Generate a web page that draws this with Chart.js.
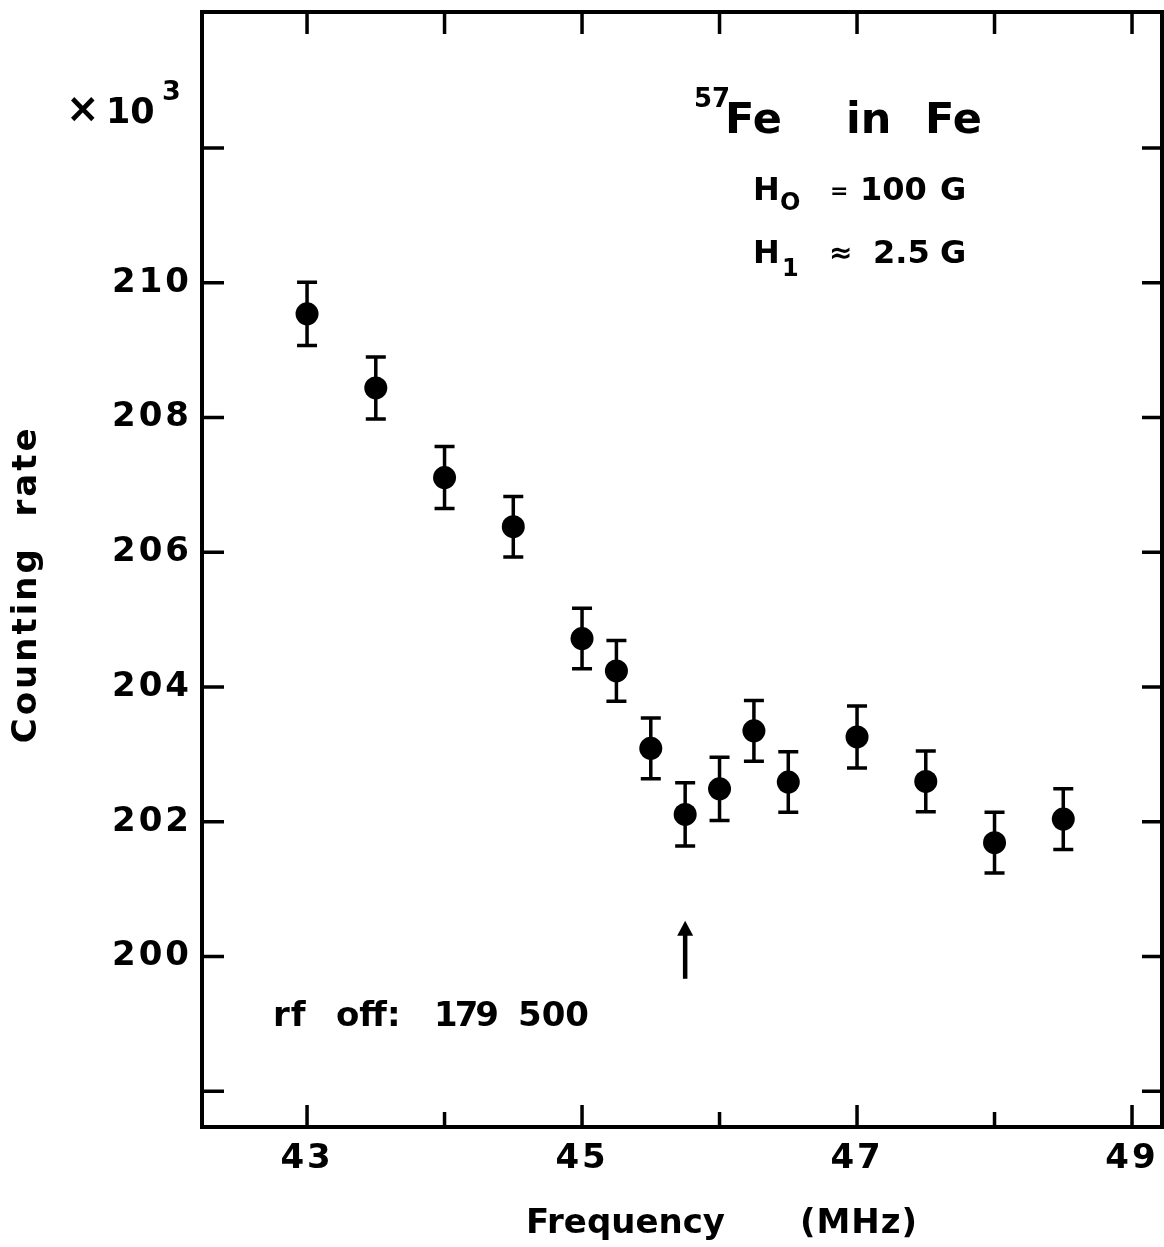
<!DOCTYPE html>
<html>
<head>
<meta charset="utf-8">
<script src="https://cdn.jsdelivr.net/npm/chart.js@4.4.1/dist/chart.umd.min.js"></script>
<style>
  html, body { margin: 0; padding: 0; background: #fff; }
  canvas { display: block; }
</style>
</head>
<body>
<canvas id="myChart" width="1164" height="1247"></canvas>
<script>
// 57Fe in Fe, counting rate (x10^3) vs frequency
const frequency = [43.0, 43.5, 44.0, 44.5, 45.0, 45.25, 45.5, 45.75, 46.0, 46.25, 46.5, 47.0, 47.5, 48.0, 48.5]
const countingRate = [209.54, 208.44, 207.11, 206.38, 204.72, 204.24, 203.09, 202.11, 202.49, 203.35, 202.59, 203.26, 202.60, 201.69, 202.04]
const rateError = [0.47, 0.46, 0.46, 0.45, 0.45, 0.45, 0.45, 0.47, 0.47, 0.45, 0.45, 0.46, 0.45, 0.45, 0.45]

const xTickLabels = [43, 45, 47, 49]
const xTickMarks = [43, 44, 45, 46, 47, 48, 49]
const yTickLabels = [200, 202, 204, 206, 208, 210]
const yTickMarks = [198, 200, 202, 204, 206, 208, 210, 212]

const xMin = 42.236
const xMax = 49.218
const yMin = 197.47
const yMax = 214.02

// resonance arrow (frequency, from / to counting rate)
const arrowAt = 45.75
const arrowFrom = 199.67
const arrowTo = 200.53

const FONT = "'DejaVu Sans', sans-serif"

function text (ctx, str, x, y, size, spacing) {
  ctx.font = `bold ${size}px ${FONT}`
  ctx.letterSpacing = spacing + 'px'
  ctx.fillText(str, x, y)
}

// chart.js reserves room for half a tick label at the ends, drop that
function noPad (scale) {
  scale.paddingTop = 0
  scale.paddingBottom = 0
  scale.paddingLeft = 0
  scale.paddingRight = 0
}

const framePlugin = {
  id: 'frame',
  beforeUpdate (chart) {
    chart.ctx.letterSpacing = '3px'
  },
  beforeDraw (chart) {
    chart.ctx.letterSpacing = '3px'
  },
  beforeDatasetsDraw (chart) {
    const ctx = chart.ctx
    const xs = chart.scales.x
    const ys = chart.scales.y
    ctx.save()
    ctx.strokeStyle = '#000'
    ctx.lineWidth = 3.5
    frequency.forEach((f, i) => {
      const px = xs.getPixelForValue(f)
      const top = ys.getPixelForValue(countingRate[i] + rateError[i])
      const bot = ys.getPixelForValue(countingRate[i] - rateError[i])
      ctx.beginPath()
      ctx.moveTo(px, top)
      ctx.lineTo(px, bot)
      ctx.moveTo(px - 10, top)
      ctx.lineTo(px + 10, top)
      ctx.moveTo(px - 10, bot)
      ctx.lineTo(px + 10, bot)
      ctx.stroke()
    })
    ctx.restore()
  },
  afterDraw (chart) {
    const ctx = chart.ctx
    const { left, right, top, bottom } = chart.chartArea
    const xs = chart.scales.x
    const ys = chart.scales.y
    ctx.save()
    ctx.strokeStyle = '#000'
    ctx.fillStyle = '#000'
    ctx.lineWidth = 4
    ctx.strokeRect(left, top, right - left, bottom - top)

    // inward ticks
    ctx.lineWidth = 3.5
    ctx.beginPath()
    xTickMarks.forEach(v => {
      const px = xs.getPixelForValue(v)
      const len = xTickLabels.includes(v) ? 22 : 15
      ctx.moveTo(px, bottom)
      ctx.lineTo(px, bottom - len)
      ctx.moveTo(px, top)
      ctx.lineTo(px, top + 22)
    })
    yTickMarks.forEach(v => {
      const py = ys.getPixelForValue(v)
      ctx.moveTo(left, py)
      ctx.lineTo(left + 22, py)
      ctx.moveTo(right, py)
      ctx.lineTo(right - 20, py)
    })
    ctx.stroke()

    // arrow marking the resonance
    const ax = xs.getPixelForValue(arrowAt)
    const a0 = ys.getPixelForValue(arrowFrom)
    const a1 = ys.getPixelForValue(arrowTo)
    ctx.lineWidth = 4.5
    ctx.beginPath()
    ctx.moveTo(ax, a0)
    ctx.lineTo(ax, a1 + 12)
    ctx.stroke()
    ctx.beginPath()
    ctx.moveTo(ax, a1)
    ctx.lineTo(ax - 8, a1 + 15)
    ctx.lineTo(ax + 8, a1 + 15)
    ctx.closePath()
    ctx.fill()

    // labels
    ctx.textAlign = 'left'
    ctx.textBaseline = 'alphabetic'
    text(ctx, '×', 66, 122, 40, 0)
    text(ctx, '10', 106, 123, 35, 0)
    text(ctx, '3', 162, 100, 27, 0)

    text(ctx, '57', 694, 107, 26, 0)
    text(ctx, 'Fe', 725, 133, 43, 0)
    text(ctx, 'in', 846, 133, 43, 0)
    text(ctx, 'Fe', 925, 133, 43, 0)

    text(ctx, 'H', 753, 200, 32, 0)
    text(ctx, 'O', 780, 210, 24, 0)
    text(ctx, '=', 830, 198, 22, 0)
    text(ctx, '100', 860, 200, 32, 0)
    text(ctx, 'G', 940, 200, 32, 0)

    text(ctx, 'H', 753, 263, 32, 0)
    text(ctx, '1', 782, 276, 24, 0)
    text(ctx, '≈', 829, 262, 28, 0)
    text(ctx, '2.5', 873, 263, 32, 0)
    text(ctx, 'G', 940, 263, 32, 0)

    text(ctx, 'rf', 273, 1026, 34, 1)
    text(ctx, 'off:', 336, 1026, 34, 0)
    text(ctx, '179', 434, 1026, 34, -3)
    text(ctx, '500', 518, 1026, 34, 0)

    text(ctx, 'Frequency', 526, 1233, 34, 0)
    text(ctx, '(MHz)', 800, 1233, 34, 1)
    ctx.restore()
  }
}

const ctx = document.getElementById('myChart')
const myChart = new Chart(ctx, {
  type: 'scatter',
  data: {
    datasets: [{
      data: frequency.map((f, i) => ({ x: f, y: countingRate[i] })),
      pointRadius: 11.5,
      pointBackgroundColor: '#000',
      pointBorderWidth: 0,
      showLine: false
    }]
  },
  options: {
    responsive: false,
    animation: false,
    events: [],
    layout: { autoPadding: false, padding: { top: 12, right: 2, left: 0, bottom: 0 } },
    plugins: {
      legend: { display: false },
      tooltip: { enabled: false }
    },
    scales: {
      x: {
        type: 'linear',
        position: 'bottom',
        min: xMin,
        max: xMax,
        afterBuildTicks: scale => { scale.ticks = xTickLabels.map(v => ({ value: v })) },
        afterFit: scale => { scale.height = 120; noPad(scale) },
        grid: { display: false, drawTicks: false },
        border: { display: false },
        ticks: {
          color: '#000',
          font: { family: FONT, size: 34, weight: 'bold' },
          padding: 12,
          maxRotation: 0,
          autoSkip: false
        }
      },
      y: {
        type: 'linear',
        position: 'left',
        min: yMin,
        max: yMax,
        afterBuildTicks: scale => { scale.ticks = yTickLabels.map(v => ({ value: v })) },
        afterFit: scale => { scale.width = 202; noPad(scale) },
        grid: { display: false, drawTicks: false },
        border: { display: false },
        ticks: {
          color: '#000',
          font: { family: FONT, size: 34, weight: 'bold' },
          padding: 10,
          autoSkip: false
        },
        title: {
          display: true,
          // trailing spaces nudge the centred title down a little
          text: 'Counting  rate  ',
          color: '#000',
          font: { family: FONT, size: 34, weight: 'bold' },
          padding: { top: 7, bottom: 0 }
        }
      }
    }
  },
  plugins: [framePlugin]
})
</script>
</body>
</html>
